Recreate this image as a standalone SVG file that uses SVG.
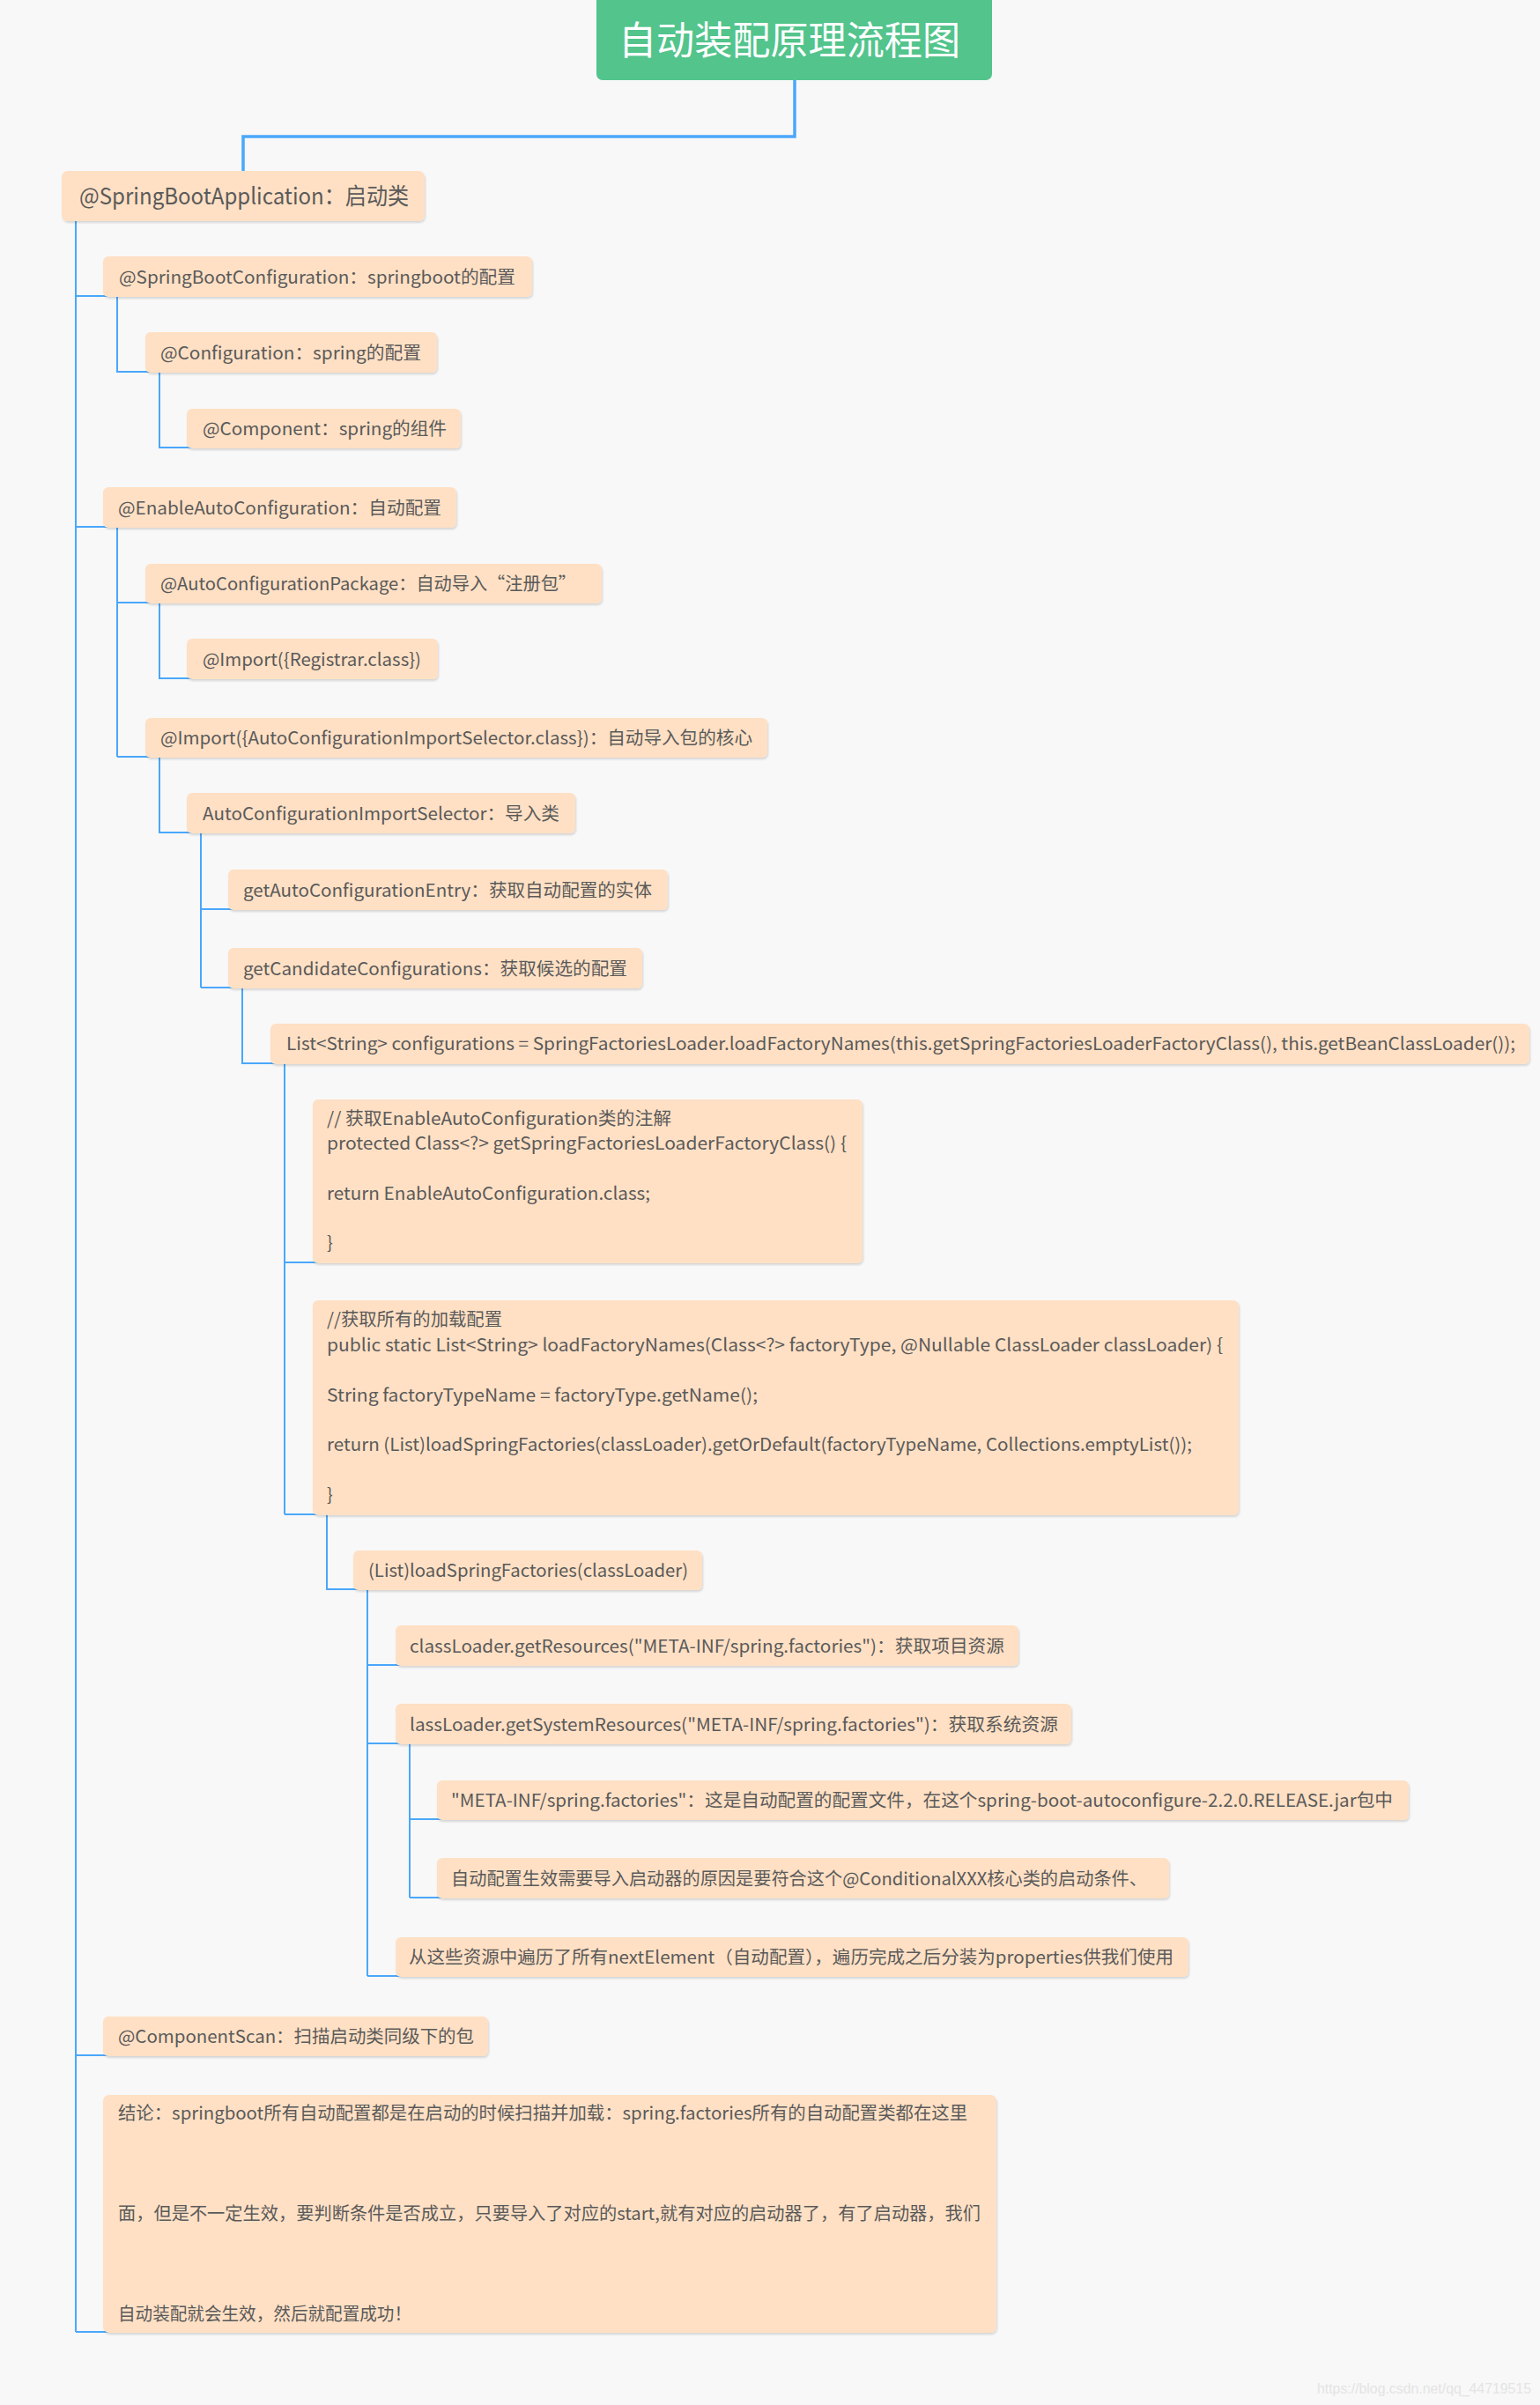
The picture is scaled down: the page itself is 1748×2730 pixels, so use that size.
<svg xmlns="http://www.w3.org/2000/svg" width="1748" height="2730" viewBox="0 0 1748 2730">
<defs>
<filter id="sh" x="-5%" y="-20%" width="110%" height="150%">
<feDropShadow dx="1" dy="2" stdDeviation="1" flood-color="#000" flood-opacity="0.14"/>
</filter>
<style>
.n{fill:#ffe0c4;filter:url(#sh)}
.t{font-family:"Noto Sans CJK SC","Noto Sans",sans-serif;font-size:20px;fill:#5a5a5a}
.c{fill:none;stroke:#4aa7fb;stroke-width:2}
</style>
</defs>
<rect x="0" y="0" width="1748" height="2730" fill="#f8f8f8"/>
<g id="connectors">
<path d="M902,91 V155 H276 V194" fill="none" stroke="#4aa7fb" stroke-width="3.5"/>
<path class="c" d="M86,251 V2647 M86,336 H124 M86,598 H124 M86,2333 H124 M86,2647 H124"/>
<path class="c" d="M133,337 V422 H171"/>
<path class="c" d="M181,423 V508 H218"/>
<path class="c" d="M133,599 V859 M133,684 H171 M133,859 H171"/>
<path class="c" d="M181,685 V770 H218"/>
<path class="c" d="M181,860 V945 H218"/>
<path class="c" d="M228,946 V1121 M228,1032 H265 M228,1121 H265"/>
<path class="c" d="M275,1122 V1207 H313"/>
<path class="c" d="M323,1208 V1719 M323,1433 H361 M323,1719 H361"/>
<path class="c" d="M371,1720 V1804 H407"/>
<path class="c" d="M417,1805 V2243 M417,1890 H455 M417,1979 H455 M417,2243 H455"/>
<path class="c" d="M465,1980 V2154 M465,2065 H502 M465,2154 H502"/>
</g>
<g id="title">
<rect x="677" y="-10" width="449" height="101" rx="7" fill="#52c48c"/>
<text x="702" y="62" font-family="Noto Sans CJK SC,Noto Sans,sans-serif" font-size="44" fill="#ffffff" textLength="388" lengthAdjust="spacingAndGlyphs">自动装配原理流程图</text>
</g>
<g id="root">
<rect class="n" x="70" y="194" width="412" height="57" rx="7"/>
<text class="t" x="90" y="232" font-size="26" style="font-size:26px" textLength="374" lengthAdjust="spacingAndGlyphs">@SpringBootApplication：启动类</text>
</g>
<g id="n-sbc">
<rect class="n" x="117" y="291" width="487" height="46" rx="6"/>
<text class="t" x="135" y="322" textLength="450" lengthAdjust="spacingAndGlyphs">@SpringBootConfiguration：springboot的配置</text>
</g>
<g id="n-config">
<rect class="n" x="165" y="377" width="331" height="46" rx="6"/>
<text class="t" x="182" y="408" textLength="296" lengthAdjust="spacingAndGlyphs">@Configuration：spring的配置</text>
</g>
<g id="n-component">
<rect class="n" x="212" y="464" width="311" height="45" rx="6"/>
<text class="t" x="230" y="494" textLength="277" lengthAdjust="spacingAndGlyphs">@Component：spring的组件</text>
</g>
<g id="n-eac">
<rect class="n" x="117" y="553" width="401" height="46" rx="6"/>
<text class="t" x="134" y="584" textLength="367" lengthAdjust="spacingAndGlyphs">@EnableAutoConfiguration：自动配置</text>
</g>
<g id="n-acp">
<rect class="n" x="165" y="640" width="518" height="45" rx="6"/>
<text class="t" x="182" y="670" textLength="472" lengthAdjust="spacingAndGlyphs">@AutoConfigurationPackage：自动导入“注册包”</text>
</g>
<g id="n-registrar">
<rect class="n" x="212" y="725" width="285" height="46" rx="6"/>
<text class="t" x="230" y="756" textLength="248" lengthAdjust="spacingAndGlyphs">@Import({Registrar.class})</text>
</g>
<g id="n-import-acis">
<rect class="n" x="165" y="815" width="706" height="45" rx="6"/>
<text class="t" x="182" y="845" textLength="672" lengthAdjust="spacingAndGlyphs">@Import({AutoConfigurationImportSelector.class})：自动导入包的核心</text>
</g>
<g id="n-acis">
<rect class="n" x="212" y="900" width="441" height="46" rx="6"/>
<text class="t" x="230" y="931" textLength="405" lengthAdjust="spacingAndGlyphs">AutoConfigurationImportSelector：导入类</text>
</g>
<g id="n-getace">
<rect class="n" x="259" y="987" width="499" height="46" rx="6"/>
<text class="t" x="276" y="1018" textLength="464" lengthAdjust="spacingAndGlyphs">getAutoConfigurationEntry：获取自动配置的实体</text>
</g>
<g id="n-getcc">
<rect class="n" x="259" y="1076" width="470" height="46" rx="6"/>
<text class="t" x="276" y="1107" textLength="436" lengthAdjust="spacingAndGlyphs">getCandidateConfigurations：获取候选的配置</text>
</g>
<g id="n-list">
<rect class="n" x="307" y="1162" width="1429" height="46" rx="6"/>
<text class="t" x="325" y="1192" textLength="1395" lengthAdjust="spacingAndGlyphs">List&lt;String&gt; configurations = SpringFactoriesLoader.loadFactoryNames(this.getSpringFactoriesLoaderFactoryClass(), this.getBeanClassLoader());</text>
</g>
<g id="n-code1">
<rect class="n" x="355" y="1248" width="624" height="186" rx="6"/>
<text class="t" x="371" y="1277" textLength="391" lengthAdjust="spacingAndGlyphs">// 获取EnableAutoConfiguration类的注解</text>
<text class="t" x="371" y="1305" textLength="590" lengthAdjust="spacingAndGlyphs">protected Class&lt;?&gt; getSpringFactoriesLoaderFactoryClass() {</text>
<text class="t" x="371" y="1362" textLength="367" lengthAdjust="spacingAndGlyphs">return EnableAutoConfiguration.class;</text>
<text class="t" x="371" y="1418">}</text>
</g>
<g id="n-code2">
<rect class="n" x="355" y="1476" width="1051" height="244" rx="6"/>
<text class="t" x="371" y="1505" textLength="199" lengthAdjust="spacingAndGlyphs">//获取所有的加载配置</text>
<text class="t" x="371" y="1534" textLength="1017" lengthAdjust="spacingAndGlyphs">public static List&lt;String&gt; loadFactoryNames(Class&lt;?&gt; factoryType, @Nullable ClassLoader classLoader) {</text>
<text class="t" x="371" y="1591" textLength="489" lengthAdjust="spacingAndGlyphs">String factoryTypeName = factoryType.getName();</text>
<text class="t" x="371" y="1647" textLength="982" lengthAdjust="spacingAndGlyphs">return (List)loadSpringFactories(classLoader).getOrDefault(factoryTypeName, Collections.emptyList());</text>
<text class="t" x="371" y="1704">}</text>
</g>
<g id="n-loadsf">
<rect class="n" x="401" y="1760" width="396" height="45" rx="6"/>
<text class="t" x="418" y="1790" textLength="363" lengthAdjust="spacingAndGlyphs">(List)loadSpringFactories(classLoader)</text>
</g>
<g id="n-getres">
<rect class="n" x="449" y="1845" width="707" height="46" rx="6"/>
<text class="t" x="465" y="1876" textLength="675" lengthAdjust="spacingAndGlyphs">classLoader.getResources("META-INF/spring.factories")：获取项目资源</text>
</g>
<g id="n-getsysres">
<rect class="n" x="449" y="1934" width="767" height="46" rx="6"/>
<text class="t" x="465" y="1965" textLength="736" lengthAdjust="spacingAndGlyphs">lassLoader.getSystemResources("META-INF/spring.factories")：获取系统资源</text>
</g>
<g id="n-meta">
<rect class="n" x="496" y="2021" width="1103" height="45" rx="6"/>
<text class="t" x="512" y="2051" textLength="1069" lengthAdjust="spacingAndGlyphs">"META-INF/spring.factories"：这是自动配置的配置文件，在这个spring-boot-autoconfigure-2.2.0.RELEASE.jar包中</text>
</g>
<g id="n-cond">
<rect class="n" x="496" y="2109" width="831" height="46" rx="6"/>
<text class="t" x="512" y="2140" textLength="790" lengthAdjust="spacingAndGlyphs">自动配置生效需要导入启动器的原因是要符合这个@ConditionalXXX核心类的启动条件、</text>
</g>
<g id="n-next">
<rect class="n" x="449" y="2199" width="900" height="45" rx="6"/>
<text class="t" x="464" y="2229" textLength="868" lengthAdjust="spacingAndGlyphs">从这些资源中遍历了所有nextElement（自动配置），遍历完成之后分装为properties供我们使用</text>
</g>
<g id="n-cs">
<rect class="n" x="117" y="2289" width="437" height="45" rx="6"/>
<text class="t" x="134" y="2319" textLength="404" lengthAdjust="spacingAndGlyphs">@ComponentScan：扫描启动类同级下的包</text>
</g>
<g id="n-conclusion">
<rect class="n" x="117" y="2378" width="1014" height="270" rx="7"/>
<text class="t" x="134" y="2406" textLength="964" lengthAdjust="spacingAndGlyphs">结论：springboot所有自动配置都是在启动的时候扫描并加载：spring.factories所有的自动配置类都在这里</text>
<text class="t" x="134" y="2520" textLength="979" lengthAdjust="spacingAndGlyphs">面，但是不一定生效，要判断条件是否成立，只要导入了对应的start,就有对应的启动器了，有了启动器，我们</text>
<text class="t" x="134" y="2634" textLength="333" lengthAdjust="spacingAndGlyphs">自动装配就会生效，然后就配置成功！</text>
</g>
<text x="1495" y="2717" font-family="Liberation Sans,Arial,sans-serif" font-size="16" fill="#e4e4e4" textLength="243" lengthAdjust="spacingAndGlyphs">https://blog.csdn.net/qq_44719515</text>
</svg>
